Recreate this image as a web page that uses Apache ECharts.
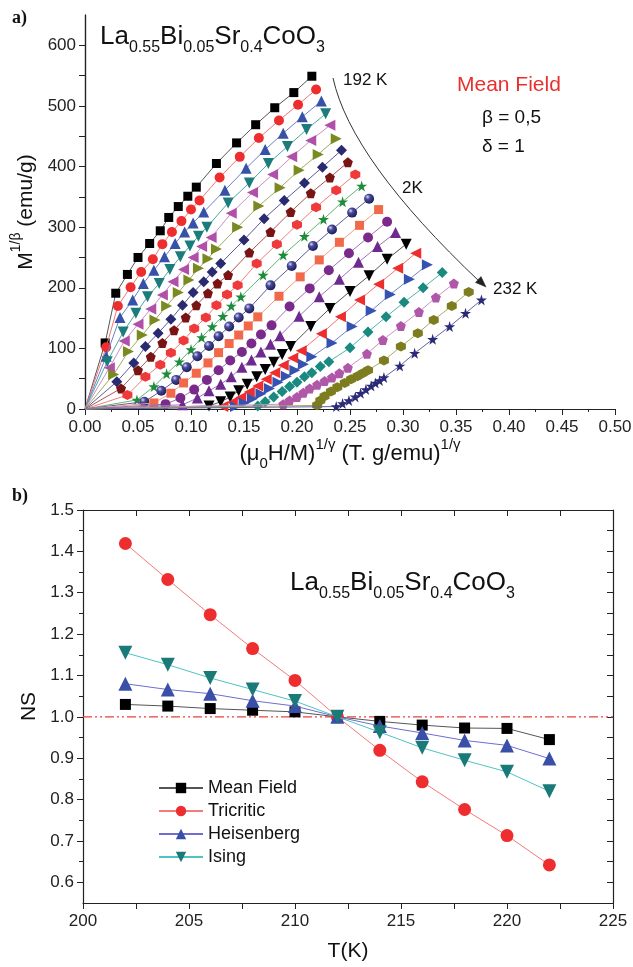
<!DOCTYPE html>
<html><head><meta charset="utf-8">
<script src="https://cdn.jsdelivr.net/npm/echarts/dist/echarts.min.js"></script>
<style>html,body{margin:0;padding:0;background:#fff}#c{width:633px;height:967px}</style>
</head><body><div id="c"></div>
<script>
// ---------- Panel a) data : (mu0 H / M)^(1/gamma) vs M^(1/beta), isotherms 192 K .. 232 K ----------
const isoTemps = [192,194,196,198,200,202,204,206,208,210,212,214,216,218,220,222,224,226,228,230,232];
const c192x = [0,0.019,0.029,0.040,0.050,0.061,0.071,0.079,0.088,0.097,0.105,0.124,0.143,0.161,0.179,0.197,0.214];
const c192y = [0,109,191,222,250,273,294,316,334,351,366,405,439,469,497,522,549];
const c194x = [0,0.020,0.031,0.043,0.053,0.064,0.073,0.082,0.091,0.100,0.108,0.127,0.146,0.164,0.183,0.201,0.218];
const c194y = [0,102,170,201,226,247,272,292,310,329,344,382,416,447,476,502,527];
const c196x = [0,0.020,0.033,0.045,0.055,0.065,0.075,0.085,0.094,0.102,0.112,0.132,0.152,0.170,0.187,0.205,0.223];
const c196y = [0,87,151,180,207,229,251,273,292,307,325,361,397,428,455,482,508];
const c198x = [0,0.021,0.036,0.048,0.059,0.070,0.080,0.090,0.099,0.107,0.115,0.135,0.155,0.173,0.191,0.209,0.227];
const c198y = [0,78,127,158,185,207,230,251,269,285,300,340,373,405,433,461,487];
const c200x = [0,0.023,0.037,0.050,0.062,0.073,0.083,0.093,0.102,0.110,0.119,0.138,0.158,0.177,0.195,0.213,0.231];
const c200y = [0,68,112,140,165,188,210,230,250,268,283,323,357,387,416,443,468];
const c202x = [0,0.027,0.041,0.054,0.066,0.077,0.088,0.098,0.107,0.116,0.124,0.144,0.164,0.184,0.202,0.220,0.237];
const c202y = [0,57,95,122,147,170,192,213,232,248,264,300,335,365,394,420,446];
const c204x = [0,0.030,0.046,0.057,0.069,0.081,0.092,0.102,0.112,0.120,0.128,0.150,0.169,0.188,0.207,0.224,0.242];
const c204y = [0,45,76,103,125,148,171,192,210,226,240,279,314,344,373,399,427];
const c206x = [0,0.034,0.050,0.062,0.073,0.084,0.095,0.105,0.116,0.125,0.135,0.155,0.175,0.194,0.213,0.231,0.248];
const c206y = [0,34,64,86,109,130,151,171,191,207,221,258,292,325,356,382,407];
const c208x = [0,0.040,0.057,0.071,0.081,0.093,0.103,0.114,0.124,0.134,0.144,0.162,0.181,0.200,0.218,0.237,0.255];
const c208y = [0,23,53,73,93,113,133,151,171,189,204,240,272,304,333,361,387];
const c210x = [0,0.049,0.065,0.077,0.089,0.100,0.110,0.120,0.130,0.138,0.147,0.168,0.187,0.207,0.225,0.243,0.261];
const c210y = [0,15,37,58,78,98,118,136,153,170,185,221,254,285,313,342,368];
const c212x = [0,0.056,0.072,0.086,0.096,0.106,0.117,0.126,0.136,0.145,0.155,0.175,0.195,0.215,0.233,0.252,0.268];
const c212y = [0,12,30,48,69,87,104,120,136,151,166,204,236,269,296,324,347];
const c214x = [0,0.065,0.081,0.093,0.105,0.116,0.126,0.136,0.145,0.154,0.163,0.183,0.203,0.221,0.240,0.259,0.277];
const c214y = [0,10,26,43,59,76,93,108,122,137,152,186,218,246,275,303,329];
const c216x = [0,0.076,0.090,0.103,0.115,0.126,0.137,0.148,0.157,0.166,0.176,0.193,0.212,0.230,0.249,0.267,0.285];
const c216y = [0,8,18,32,48,64,80,94,108,123,138,169,199,229,257,283,309];
const c218x = [0,0.092,0.106,0.117,0.128,0.138,0.148,0.157,0.166,0.175,0.184,0.202,0.221,0.240,0.258,0.276,0.293];
const c218y = [0,7,18,30,41,53,69,81,94,107,121,153,185,214,242,268,291];
const c220x = [0,0.117,0.128,0.137,0.145,0.153,0.162,0.170,0.178,0.186,0.194,0.213,0.231,0.250,0.268,0.285,0.303];
const c220y = [0,5,12,20,30,41,53,65,77,90,103,136,166,194,220,247,272];
const c222x = [0,0.130,0.139,0.147,0.155,0.163,0.171,0.179,0.187,0.196,0.204,0.223,0.241,0.259,0.277,0.295,0.312];
const c222y = [0,4,11,19,28,38,49,60,72,84,96,124,152,180,206,232,257];
const c224x = [0,0.142,0.150,0.158,0.166,0.174,0.182,0.190,0.198,0.206,0.214,0.233,0.252,0.270,0.288,0.306,0.323];
const c224y = [0,4,10,17,25,34,44,54,64,74,86,109,136,162,189,214,238];
const c226x = [0,0.163,0.170,0.178,0.186,0.193,0.200,0.207,0.214,0.222,0.230,0.250,0.267,0.284,0.301,0.319,0.337];
const c226y = [0,5,12,20,29,37,44,53,60,70,78,101,127,152,176,200,225];
const c228x = [0,0.187,0.193,0.200,0.206,0.212,0.219,0.226,0.233,0.240,0.248,0.266,0.281,0.298,0.315,0.331,0.348];
const c228y = [0,8,14,20,27,34,40,46,52,59,68,91,114,137,160,184,207];
const c230x = [0,0.219,0.222,0.226,0.232,0.238,0.245,0.251,0.257,0.262,0.267,0.282,0.298,0.314,0.329,0.346,0.362];
const c230y = [0,6,14,21,29,36,43,49,54,59,64,80,103,125,147,170,193];
const c232x = [0,0.237,0.243,0.249,0.255,0.260,0.265,0.270,0.274,0.278,0.282,0.297,0.311,0.328,0.344,0.359,0.374];
const c232y = [0,4,9,14,20,26,32,38,43,47,52,71,92,115,136,158,180];

const isoX = [c192x,c194x,c196x,c198x,c200x,c202x,c204x,c206x,c208x,c210x,c212x,c214x,c216x,c218x,c220x,c222x,c224x,c226x,c228x,c230x,c232x];
const isoY = [c192y,c194y,c196y,c198y,c200y,c202y,c204y,c206y,c208y,c210y,c212y,c214y,c216y,c218y,c220y,c222y,c224y,c226y,c228y,c230y,c232y];

// axis ticks panel a)
const aYMajor = [0,100,200,300,400,500,600];
const aYMinor = [50,150,250,350,450,550];
const aYRight = [50,100,150,200,250,300,350,400,450,500,550,600];

// ---------- Panel b) data : NS vs T ----------
const temps = [202,204,206,208,210,212,214,216,218,220,222];
const meanField  = [1.030,1.026,1.020,1.016,1.012,1.000,0.989,0.980,0.973,0.972,0.945];
const tricritic  = [1.419,1.332,1.247,1.165,1.088,1.000,0.919,0.843,0.776,0.713,0.642];
const heisenberg = [1.080,1.066,1.056,1.039,1.026,1.000,0.978,0.961,0.943,0.931,0.899];
const ising      = [1.155,1.126,1.094,1.066,1.038,1.000,0.963,0.925,0.895,0.867,0.820];
const refNS = 1.0;
const refT = [200, 225];
const bYMajor = [0.6,0.7,0.8,0.9,1.0,1.1,1.2,1.3,1.4,1.5];
const bYMinor = [0.65,0.75,0.85,0.95,1.05,1.15,1.25,1.35,1.45];
const bYRight = [0.6,0.65,0.7,0.75,0.8,0.85,0.9,0.95,1.0,1.05,1.1,1.15,1.2,1.25,1.3,1.35,1.4,1.45];

// ---------- styles ----------
const FF = '"Liberation Sans", Arial, Helvetica, sans-serif';
const STAR = 'path://M50,0 L61,35 L98,35 L68,57 L79,91 L50,70 L21,91 L32,57 L2,35 L39,35 Z';
const PENT = 'path://M50,0 L98,35 L79,91 L21,91 L2,35 Z';
const HEX  = 'path://M50,0 L93,25 L93,75 L50,100 L7,75 L7,25 Z';
const sphere = {type:'radial', x:0.35, y:0.32, r:0.7, colorStops:[{offset:0,color:'#d8d8ff'},{offset:0.35,color:'#4a4a9a'},{offset:1,color:'#1c1c58'}]};
const isoStyle = [
  {s:'rect', z:9, r:0, c:'#000000', l:'#555555'},
  {s:'circle', z:10, r:0, c:'#ee2e2e', l:'#f07575'},
  {s:'triangle', z:11, r:0, c:'#3552a8', l:'#6f80cc'},
  {s:'triangle', z:11, r:180, c:'#1c7c7c', l:'#4aa8a8'},
  {s:'triangle', z:11, r:90, c:'#b050a8', l:'#c890c0'},
  {s:'triangle', z:11, r:-90, c:'#7a8a20', l:'#a2aa60'},
  {s:'diamond', z:11, r:0, c:'#2a2a70', l:'#5c5c9c'},
  {s:PENT, z:10, r:0, c:'#7a1414', l:'#a85656'},
  {s:HEX, z:10, r:0, c:'#ee3a3a', l:'#f07c7c'},
  {s:STAR, z:11, r:0, c:'#1f8c3c', l:'#62b272'},
  {s:'circle', z:10, r:0, c:sphere, l:'#5c5c9c'},
  {s:'rect', z:9, r:0, c:'#f2694a', l:'#f49c84'},
  {s:'circle', z:10, r:0, c:'#7a2a8a', l:'#a072b2'},
  {s:'triangle', z:11, r:0, c:'#6e2a8e', l:'#9c72ba'},
  {s:'triangle', z:11, r:180, c:'#000000', l:'#555555'},
  {s:'triangle', z:11, r:90, c:'#ee2e2e', l:'#f07575'},
  {s:'triangle', z:11, r:-90, c:'#3552b0', l:'#6f80cc'},
  {s:'diamond', z:11, r:0, c:'#1a8a80', l:'#52b2a8'},
  {s:PENT, z:10, r:0, c:'#b058a8', l:'#ca92c2'},
  {s:HEX, z:10, r:0, c:'#7d7d20', l:'#aaaa62'},
  {s:STAR, z:11, r:0, c:'#2a2a78', l:'#6262a2'}
];

const series = [];
isoTemps.forEach((t, k) => {
  const st = isoStyle[k];
  const xs = isoX[k], ys = isoY[k];
  series.push({
    name: t + ' K', type:'line', xAxisIndex:0, yAxisIndex:0,
    data: xs.map((x,i) => i === 0 ? {value:[x, ys[i]], symbol:'none'} : [x, ys[i]]),
    symbol: st.s, symbolSize: st.z, symbolRotate: st.r, showAllSymbol: true,
    itemStyle:{color: st.c}, lineStyle:{color: st.l, width:1},
    emphasis:{disabled:true}, animation:false, silent:true, z: 2 + k*0.01
  });
});

// dash-dot reference line NS = 1
series.push({
  name:'ref', type:'line', xAxisIndex:2, yAxisIndex:3,
  data: refT.map(t => [t, refNS]), symbol:'none', silent:true, animation:false,
  lineStyle:{color:'#e8413a', width:1.2, type:[9,3,2,3,2,3]}, itemStyle:{color:'#e8413a'}, z:3
});

const bSeries = [
  {name:'Mean Field', d:meanField, s:'rect', z:11, r:0, c:'#000000', l:'#555555'},
  {name:'Tricritic', d:tricritic, s:'circle', z:13, r:0, c:'#ee2e2e', l:'#f27b7b'},
  {name:'Heisenberg', d:heisenberg, s:'triangle', z:14, r:0, c:'#3a50a8', l:'#6d6dd2'},
  {name:'Ising', d:ising, s:'triangle', z:14, r:180, c:'#1a7a78', l:'#4fc2c2'}
];
bSeries.forEach((b, i) => {
  series.push({
    name: b.name, type:'line', xAxisIndex:2, yAxisIndex:3,
    data: temps.map((t,j) => [t, b.d[j]]),
    symbol: b.s, symbolSize: b.z, symbolRotate: b.r,
    itemStyle:{color:b.c}, lineStyle:{color:b.l, width:1},
    emphasis:{disabled:true}, animation:false, z: 5 + i
  });
});

const axLine = {show:true, lineStyle:{color:'#222', width:1.2}};
const lblStyle = {fontFamily:FF, fontSize:17, color:'#222'};

const option = {
  animation:false,
  textStyle:{fontFamily:FF},
  grid:[
    {left:85, right:18, top:15, bottom:558, outerBoundsMode:'none'},
    {left:83, right:20, top:510, bottom:64, outerBoundsMode:'none'}
  ],
  legend:{
    data:['Mean Field','Tricritic','Heisenberg','Ising'],
    orient:'vertical', left:153, top:773, itemWidth:44, itemHeight:13, itemGap:3,
    textStyle:{fontFamily:FF, fontSize:18, color:'#111', lineHeight:20}, selectedMode:false
  },
  xAxis:[
    {gridIndex:0, type:'value', position:'bottom', min:0, max:0.5, interval:0.05,
     axisLine:axLine, splitLine:{show:false},
     axisTick:{show:true, inside:false, length:6, lineStyle:{color:'#222'}},
     minorTick:{show:true, splitNumber:2, length:3, lineStyle:{color:'#222'}},
     axisLabel:{...lblStyle, margin:10, formatter:v => v.toFixed(2)},
     name:'{b|(μ}{sub|0}{b|H/M)}{sup|1/γ}{b| (T. g/emu)}{sup|1/γ}',
     nameLocation:'middle', nameGap:24,
     nameTextStyle:{rich:{
       b:{fontFamily:FF, fontSize:22, lineHeight:34, verticalAlign:'middle', color:'#111'},
       sup:{fontFamily:FF, fontSize:15, lineHeight:15, verticalAlign:'top', color:'#111'},
       sub:{fontFamily:FF, fontSize:15, lineHeight:15, verticalAlign:'bottom', color:'#111'}}}},
    {gridIndex:0, type:'value', position:'top', min:0, max:0.5, interval:0.05,
     axisLine:axLine, splitLine:{show:false}, axisLabel:{show:false},
     axisTick:{show:true, inside:true, length:6, lineStyle:{color:'#222'}}},
    {gridIndex:1, type:'value', position:'bottom', min:200, max:225, interval:5,
     axisLine:axLine, splitLine:{show:false},
     axisTick:{show:true, inside:false, length:6, lineStyle:{color:'#222'}},
     minorTick:{show:true, splitNumber:2, length:6, lineStyle:{color:'#222'}},
     axisLabel:{...lblStyle, margin:10},
     name:'T(K)', nameLocation:'middle', nameGap:38,
     nameTextStyle:{fontFamily:FF, fontSize:21, color:'#111'}},
    {gridIndex:1, type:'value', position:'top', min:200, max:225, interval:2.5,
     axisLine:axLine, splitLine:{show:false}, axisLabel:{show:false},
     axisTick:{show:true, inside:true, length:6, lineStyle:{color:'#222'}}}
  ],
  yAxis:[
    {gridIndex:0, type:'value', position:'left', min:0, max:650,
     axisLine:axLine, splitLine:{show:false},
     axisTick:{show:true, inside:false, length:6, customValues:aYMajor, lineStyle:{color:'#222'}},
     axisLabel:{...lblStyle, margin:9, customValues:aYMajor},
     name:'{b|M}{sup|1/β}{b| (emu/g)}', nameLocation:'middle', nameGap:40,
     nameTextStyle:{rich:{
       b:{fontFamily:FF, fontSize:21, lineHeight:28, verticalAlign:'bottom', color:'#111'},
       sup:{fontFamily:FF, fontSize:14, lineHeight:14, verticalAlign:'top', color:'#111'}}}},
    {gridIndex:0, type:'value', position:'right', min:0, max:650,
     axisLine:axLine, splitLine:{show:false}, axisLabel:{show:false},
     axisTick:{show:true, inside:true, length:6, customValues:aYRight, lineStyle:{color:'#222'}}},
    {gridIndex:0, type:'value', position:'left', min:0, max:650, offset:0,
     axisLine:{show:false}, splitLine:{show:false}, axisLabel:{show:false},
     axisTick:{show:true, inside:false, length:3, customValues:aYMinor, lineStyle:{color:'#222'}}},
    {gridIndex:1, type:'value', position:'left', min:0.55, max:1.5,
     axisLine:axLine, splitLine:{show:false},
     axisTick:{show:true, inside:false, length:6, customValues:bYMajor, lineStyle:{color:'#222'}},
     axisLabel:{...lblStyle, margin:9, customValues:bYMajor, formatter:v => v.toFixed(1)},
     name:'NS', nameLocation:'middle', nameGap:38,
     nameTextStyle:{fontFamily:FF, fontSize:21, color:'#111'}},
    {gridIndex:1, type:'value', position:'right', min:0.55, max:1.5,
     axisLine:axLine, splitLine:{show:false}, axisLabel:{show:false},
     axisTick:{show:true, inside:true, length:6, customValues:bYRight, lineStyle:{color:'#222'}}},
    {gridIndex:1, type:'value', position:'left', min:0.55, max:1.5, offset:0,
     axisLine:{show:false}, splitLine:{show:false}, axisLabel:{show:false},
     axisTick:{show:true, inside:false, length:4, customValues:bYMinor, lineStyle:{color:'#222'}}}
  ],
  series: series
};

const chart = echarts.init(document.getElementById('c'), null, {renderer:'canvas', width:633, height:967});
chart.setOption(option);

// ---------- annotations ----------
const titleRich = {
  m:{fontFamily:FF, fontSize:26, lineHeight:32, verticalAlign:'top', fill:'#111'},
  s:{fontFamily:FF, fontSize:16, lineHeight:16, verticalAlign:'bottom', fill:'#111'}
};
const titleText = '{m|La}{s|0.55}{m|Bi}{s|0.05}{m|Sr}{s|0.4}{m|CoO}{s|3}';
function txt(x, y, text, size, color) {
  return {type:'text', x:x, y:y, silent:true, z:100,
    style:{text:text, fontFamily:FF, fontSize:size, fill:color||'#111', verticalAlign:'middle', align:'left'}};
}
chart.setOption({graphic:[
  {type:'text', x:12, y:18, z:100, silent:true, style:{text:'a)', fontFamily:'"Liberation Serif", "Times New Roman", serif', fontWeight:'bold', fontSize:18, fill:'#111', verticalAlign:'middle'}},
  {type:'text', x:12, y:496, z:100, silent:true, style:{text:'b)', fontFamily:'"Liberation Serif", "Times New Roman", serif', fontWeight:'bold', fontSize:18, fill:'#111', verticalAlign:'middle'}},
  {type:'text', x:100, y:40, z:100, silent:true, style:{text:titleText, rich:titleRich, verticalAlign:'middle', align:'left'}},
  {type:'text', x:290, y:586, z:100, silent:true, style:{text:titleText, rich:titleRich, verticalAlign:'middle', align:'left'}},
  txt(343, 80, '192 K', 17),
  txt(402, 188, '2K', 17),
  txt(493, 289, '232 K', 17),
  txt(457, 85, 'Mean Field', 21, '#e8312f'),
  txt(482, 118, 'β = 0,5', 19),
  txt(482, 147, 'δ = 1', 19),
  {type:'bezierCurve', z:100, silent:true, shape:{x1:333, y1:78, cpx1:351, cpy1:160, x2:480, y2:282}, style:{stroke:'#333', lineWidth:1, fill:null}},
  {type:'polygon', z:100, silent:true, shape:{points:[[486,287],[475.5,282.5],[481,276.5]]}, style:{fill:'#222', stroke:'#222', lineWidth:0.5}}
]});
</script>
</body></html>
